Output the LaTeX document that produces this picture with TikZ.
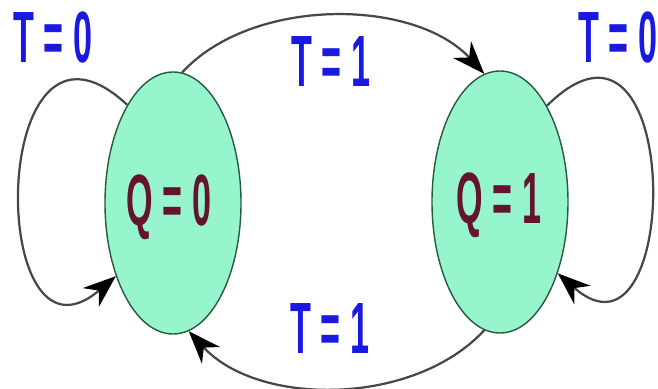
\documentclass[tikz,border=0pt]{standalone}
\usepackage{fontspec}
\setmainfont{Liberation Sans}
\usetikzlibrary{shapes.geometric,arrows.meta}
\definecolor{stategreen}{RGB}{150,245,205}
\definecolor{stateline}{RGB}{40,90,60}
\definecolor{inblue}{RGB}{25,25,225}
\definecolor{qmaroon}{RGB}{100,20,45}

\begin{document}
\begin{tikzpicture}[x=0.03cm, y=-0.03cm]
  \tikzset{
    state/.style={ellipse, draw=stateline, line width=1.2pt, fill=stategreen, minimum width=4.08cm, minimum height=7.86cm, inner sep=0pt},
    lbl/.style={font=\fontsize{62}{62}\bfseries\selectfont, xscale=0.47, transform shape, inner sep=0pt},
    trans/.style={draw=black!72, line width=1.9pt, -{Stealth[length=28pt, width=21pt, inset=9pt, black]}}
  }
  \useasboundingbox (0,0) rectangle (658,389);

  \node[state] (q0) at (173,203) {};
  \node[state] (q1) at (500,202) {};
  \node[lbl, text=qmaroon] (q0txt) at (169,207) {Q = 0};
  \node[lbl, text=qmaroon] (q1txt) at (499,205) {Q = 1};

  \node[lbl, text=inblue] (t0l) at (53,37)   {T = 0};
  \node[lbl, text=inblue] (t0r) at (618,37)  {T = 0};
  \node[lbl, text=inblue] (t1u) at (331,62)  {T = 1};
  \node[lbl, text=inblue] (t1d) at (330,329) {T = 1};

  \draw[trans] (q0.86) .. controls +(70,-76) and +(-70,-76) .. (q1.97);
  \draw[trans] (q1.263) .. controls +(-70,76) and +(70,76) .. (q0.277);
  \draw[trans] (q0.115) .. controls +(-140,-130) and +(-130,111) .. (q0.232);
  \draw[trans] (q1.64) .. controls +(138,-137) and +(125,110) .. (q1.309);
\end{tikzpicture}
\end{document}
